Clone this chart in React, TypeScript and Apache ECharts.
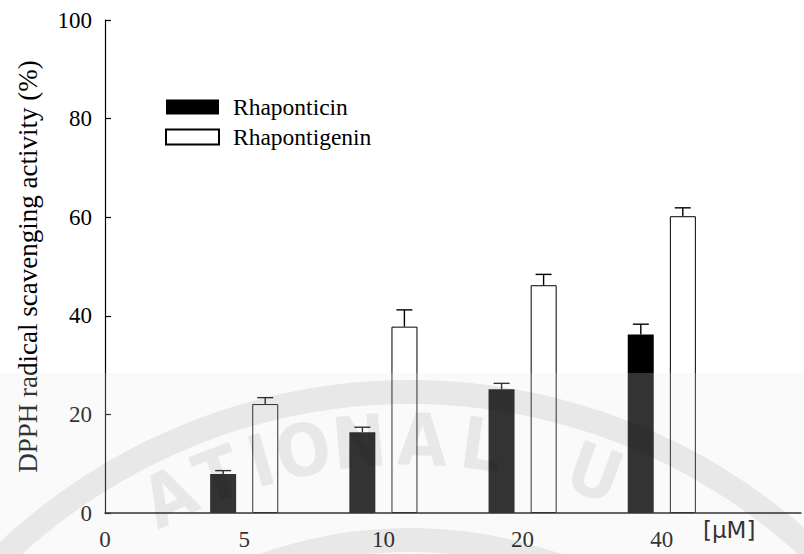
import React, { useEffect, useRef } from "react";
import * as echarts from "echarts";

// ---- data ----
const categories = ["0", "5", "10", "20", "40", ""];
const rhaponticin = [null, 7.9, 16.4, 25.1, 36.2, null];
const rhaponticinErr = [null, 0.7, 1.0, 1.2, 2.1, null];
const rhapontigenin = [null, 22.1, 37.8, 46.2, 60.2, null];
const rhapontigeninErr = [null, 1.3, 3.4, 2.2, 1.7, null];
const seriesNames = ["Rhaponticin", "Rhapontigenin"];
const unitLabel = "[μM]";
const yTitle = "DPPH radical scavenging activity (%)";

// ---- decoration (faint watermark seal) ----
const wmLetters = ["A", "T", "I", "O", "N", "A", "L", "U"];
const wmAngles = [-26.5, -20.8, -16.0, -11.4, -5.4, 1.3, 7.6, 20];

const SERIF = "Liberation Serif";

function errData(vals: (number | null)[], errs: (number | null)[]) {
  const out: number[][] = [];
  vals.forEach((v, i) => {
    if (v != null && errs[i] != null) out.push([i, v, errs[i] as number]);
  });
  return out;
}

function errSeries(name: string, data: number[][], offset: number) {
  return {
    type: "custom",
    name: name + " SD",
    data,
    encode: { x: 0, y: 1 },
    z: 5,
    silent: true,
    renderItem: (_p: any, api: any) => {
      const i = api.value(0);
      const v = api.value(1);
      const e = api.value(2);
      const base = api.coord([i, v]);
      const top = api.coord([i, v + e]);
      const x = base[0] + offset;
      const st = { stroke: "#000", lineWidth: 1.4 };
      return {
        type: "group",
        children: [
          { type: "line", shape: { x1: x, y1: base[1], x2: x, y2: top[1] }, style: st },
          { type: "line", shape: { x1: x - 8, y1: top[1], x2: x + 8, y2: top[1] }, style: st },
        ],
      };
    },
  };
}

export default function App() {
  const ref = useRef<HTMLDivElement>(null);
  useEffect(() => {
    if (!ref.current) return;
    const chart = echarts.init(ref.current, undefined, { renderer: "svg" });

    const cx = 410;
    const cy = 980;
    const wmFill = "rgba(0,0,0,0.07)";
    const letterEls = wmLetters.map((ch, k) => {
      const th = (wmAngles[k] * Math.PI) / 180;
      const r = 540;
      return {
        type: "text",
        x: cx + r * Math.sin(th),
        y: cy - r * Math.cos(th),
        rotation: -th,
        silent: true,
        z: 101,
        style: {
          text: ch,
          fill: wmFill,
          fontSize: 72,
          fontWeight: "bold",
          fontFamily: "DejaVu Sans Condensed, DejaVu Sans, sans-serif",
          align: "center",
          verticalAlign: "middle",
        },
      };
    });

    chart.setOption({
      animation: false,
      backgroundColor: "#fff",
      textStyle: { fontFamily: SERIF },
      grid: { left: 105, right: -5, top: 20, bottom: 41, containLabel: false },
      legend: {
        orient: "vertical",
        left: 165,
        top: 95,
        padding: 0,
        itemWidth: 53,
        itemHeight: 15,
        itemGap: 6,
        icon: "rect",
        data: seriesNames,
        textStyle: {
          fontFamily: SERIF,
          fontSize: 23.5,
          color: "#000",
          padding: [0, 0, 0, 9],
        },
      },
      xAxis: {
        type: "category",
        data: categories,
        boundaryGap: false,
        axisLine: { show: true, lineStyle: { color: "#000", width: 1.5 } },
        axisTick: { show: false },
        axisLabel: {
          fontFamily: SERIF,
          fontSize: 23,
          color: "#000",
          margin: 15,
        },
        splitLine: { show: false },
      },
      yAxis: {
        type: "value",
        min: 0,
        max: 100,
        interval: 20,
        name: yTitle,
        nameLocation: "middle",
        nameRotate: 90,
        nameGap: 64,
        nameTextStyle: { fontFamily: SERIF, fontSize: 27, color: "#000" },
        axisLine: { show: true, lineStyle: { color: "#000", width: 1.2 } },
        axisTick: { show: true, inside: true, length: 6, lineStyle: { color: "#000", width: 1.2 } },
        axisLabel: { fontFamily: SERIF, fontSize: 23, color: "#000", margin: 13 },
        splitLine: { show: false },
      },
      series: [
        {
          type: "bar",
          name: seriesNames[0],
          data: rhaponticin,
          barWidth: 26,
          barGap: "62%",
          itemStyle: { color: "#000" },
        },
        {
          type: "bar",
          name: seriesNames[1],
          data: rhapontigenin,
          barWidth: 26,
          itemStyle: { color: "#fff", borderColor: "#000", borderWidth: 1 },
        },
        errSeries(seriesNames[0], errData(rhaponticin, rhaponticinErr), -21),
        errSeries(seriesNames[1], errData(rhapontigenin, rhapontigeninErr), 21),
      ],
      graphic: {
        elements: [
          {
            type: "text",
            left: 703,
            top: 518,
            silent: true,
            style: {
              text: unitLabel,
              fontFamily: "DejaVu Sans",
              fontSize: 23,
              fill: "#000",
            },
          },
          {
            type: "rect",
            silent: true,
            z: 100,
            shape: { x: 0, y: 373, width: 804, height: 181 },
            style: { fill: "rgba(232,232,232,0.22)" },
          },
          {
            type: "ring",
            silent: true,
            z: 101,
            shape: { cx, cy, r: 600, r0: 576 },
            style: { fill: wmFill },
          },
          {
            type: "ring",
            silent: true,
            z: 101,
            shape: { cx, cy, r: 452, r0: 428 },
            style: { fill: wmFill },
          },
          ...letterEls,
        ],
      },
    });
    return () => chart.dispose();
  }, []);
  return (
    <div
      ref={ref}
      style={{ position: "absolute", left: 0, top: 0, width: 804, height: 554 }}
    />
  );
}
